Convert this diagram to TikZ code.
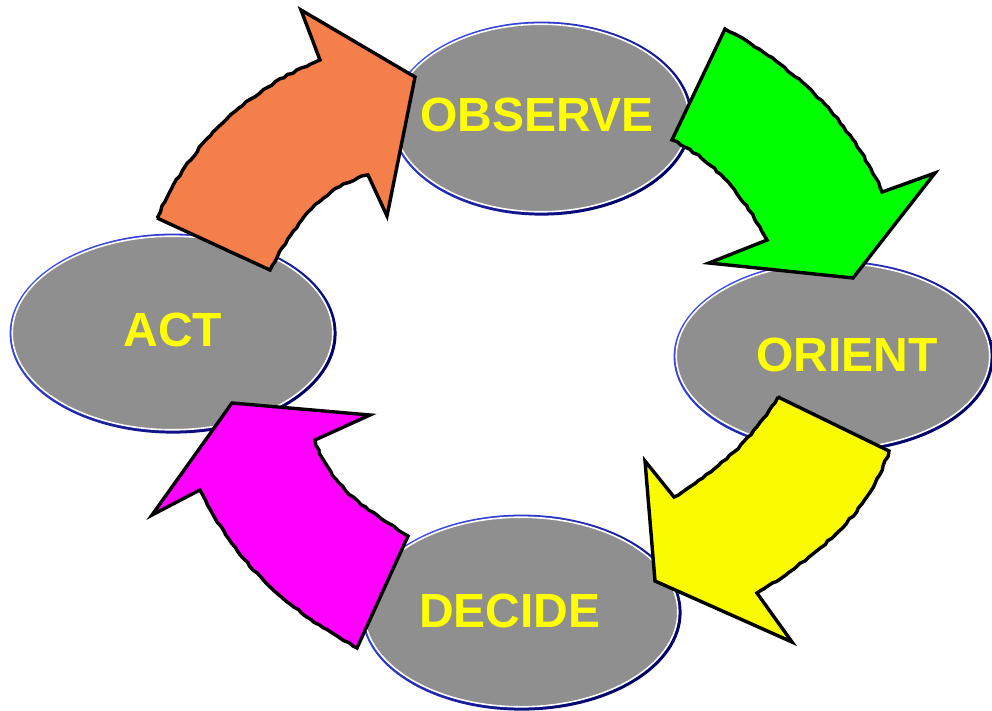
\documentclass[tikz,border=0pt]{standalone}
\usepackage{fontspec}
\setmainfont{Liberation Sans}
\usetikzlibrary{shapes.geometric,shadings,decorations.pathmorphing}
\definecolor{ellgray}{RGB}{143,143,143}
\definecolor{ringblue}{RGB}{60,75,235}
\definecolor{ringnavy}{RGB}{0,0,100}
\definecolor{txtyellow}{RGB}{255,255,0}
\definecolor{aorange}{RGB}{244,127,74}
\definecolor{agreen}{RGB}{0,255,0}
\definecolor{ayellow}{RGB}{250,250,0}
\definecolor{amagenta}{RGB}{255,0,255}
\newcommand\ellring[4]{%
  \shade[shading=axis, top color=ringblue, middle color=white, bottom color=ringnavy, shading angle=45]
    (#1+0.6,#2+0.6) ellipse [x radius=#3, y radius=#4];}
\begin{document}
\begin{tikzpicture}[x=1pt,y=-1pt,
  stage/.style={ellipse, fill=ellgray, draw=white, line width=1.6pt, inner sep=0pt},
  lbl/.style={text=txtyellow, font=\fontsize{48}{48}\selectfont\bfseries, inner sep=0pt},
  arrowshape/.style={draw=black, line width=3.4pt, line join=miter, miter limit=5},
  rough/.style={decoration={random steps, segment length=5pt, amplitude=0.8pt}}]
\pgfmathsetseed{7}
\useasboundingbox (0,0) rectangle (992,711);

% ellipses
\ellring{541}{118}{151}{97}
\node[stage, minimum width=295.6pt, minimum height=187.6pt] (obs) at (541,118) {};
\ellring{172.5}{333}{163.5}{100}
\node[stage, minimum width=320.6pt, minimum height=193.6pt] (act) at (172.5,333) {};
\ellring{833}{356}{160}{96}
\node[stage, minimum width=313.6pt, minimum height=185.6pt] (ori) at (833,356) {};
\ellring{521}{612}{160}{98}
\node[stage, minimum width=313.6pt, minimum height=189.6pt] (dec) at (521,612) {};

% labels
\node[lbl] (obs-t) at (537,115) {OBSERVE};
\node[lbl] (act-t) at (173,330) {ACT};
\node[lbl] (ori-t) at (847,355) {ORIENT};
\node[lbl] (dec-t) at (510,611) {DECIDE};

% arrows
\draw[arrowshape, fill=aorange] (157,218) -- (270,270)
  decorate[rough]{ .. controls (294,226) and (320,188) .. (368,175) }
  -- (387,216) -- (415,77) -- (301,10) -- (320,60)
  decorate[rough]{ .. controls (246,90) and (189,145) .. (157,218) }
  -- cycle;

\draw[arrowshape, fill=agreen] (725,29)
  decorate[rough]{ .. controls (794,66) and (851,120) .. (882,192) }
  -- (935,173) -- (853,278) -- (709,263) -- (767,240)
  decorate[rough]{ .. controls (743,196) and (717,162) .. (672,140) }
  -- cycle;

\draw[arrowshape, fill=ayellow] (778,397) -- (889,451)
  decorate[rough]{ .. controls (869,515) and (814,558) .. (757,593) }
  -- (792,642) -- (655,581) -- (645,461) -- (674,497)
  decorate[rough]{ .. controls (717,471) and (752,440) .. (778,397) }
  -- cycle;

\draw[arrowshape, fill=amagenta] (232,403) -- (370,415) -- (315,440)
  decorate[rough]{ .. controls (329,486) and (367,510) .. (408,536) }
  -- (357,648)
  decorate[rough]{ .. controls (283,606) and (238,566) .. (200,490) }
  -- (152,515) -- cycle;
\end{tikzpicture}
\end{document}
